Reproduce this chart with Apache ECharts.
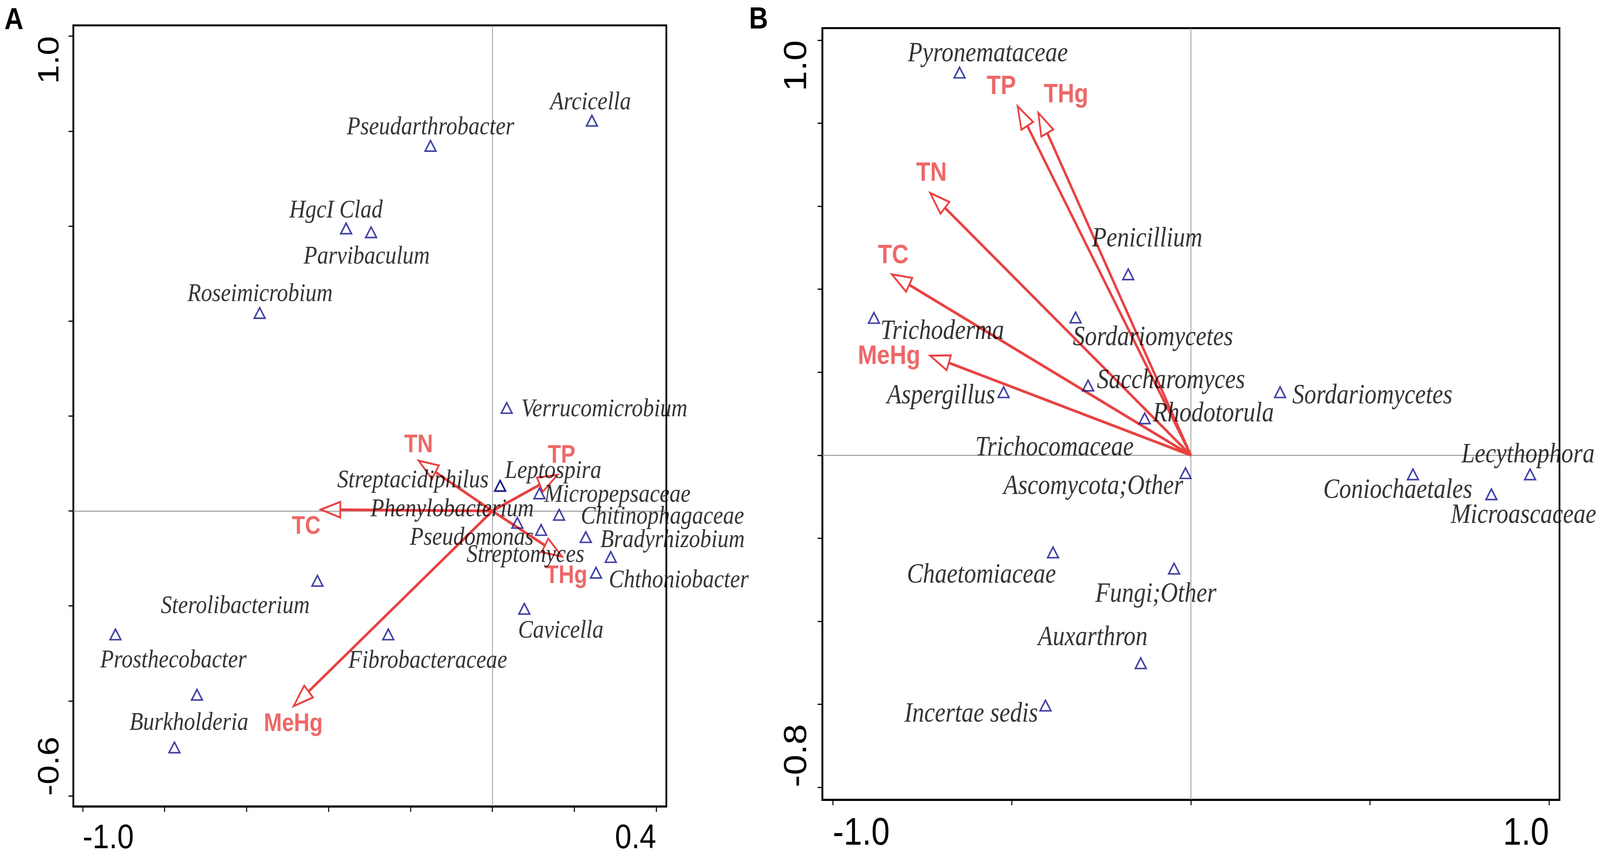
<!DOCTYPE html>
<html>
<head>
<meta charset="utf-8">
<title>RDA biplots</title>
<script src="https://cdn.jsdelivr.net/npm/echarts@6.0.0/dist/echarts.min.js"></script>
<style>
  html, body { margin: 0; padding: 0; background: #fff; overflow: hidden; }
  #main { width: 4740px; height: 2192px; transform-origin: 0 0; }
</style>
</head>
<body>
<div id="main"></div>
<script>
// panel A - bacterial genera
var namesA = ["Arcicella", "Pseudarthrobacter", "HgcI Clad", "Parvibaculum", "Roseimicrobium",
  "Verrucomicrobium", "Streptacidiphilus", "Leptospira", "Micropepsaceae", "Chitinophagaceae",
  "Phenylobacterium", "Pseudomonas", "Bradyrhizobium", "Streptomyces", "Chthoniobacter",
  "Cavicella", "Sterolibacterium", "Fibrobacteraceae", "", "Prosthecobacter", "Burkholderia"];
var xA = [0.243, -0.151, -0.357, -0.296, -0.568, 0.035, 0.019, 0.019, 0.115, 0.163,
  0.061, 0.119, 0.228, 0.289, 0.253, 0.078, -0.427, -0.254, -0.920, -0.721, -0.776];
var yA = [0.822, 0.769, 0.595, 0.587, 0.417, 0.217, 0.053, 0.053, 0.037, -0.008,
  -0.025, -0.040, -0.055, -0.097, -0.130, -0.206, -0.147, -0.260, -0.260, -0.387, -0.498];
var envA = ["TN", "TP", "TC", "THg", "MeHg"];
var envXA = [-0.180, 0.159, -0.419, 0.170, -0.485];
var envYA = [0.106, 0.076, 0.003, -0.096, -0.411];
var xTicksA = [-1.0, -0.8, -0.6, -0.4, -0.2, 0, 0.2, 0.4];
var yTicksA = [-0.6, -0.4, -0.2, 0, 0.2, 0.4, 0.6, 0.8, 1.0];
var xTickLabelsA = [-1.0, 0.4];
var yTickLabelsA = [-0.6, 1.0];

// panel B - fungal taxa
var namesB = ["Pyronemataceae", "Penicillium", "Sordariomycetes", "Trichoderma", "Saccharomyces",
  "Aspergillus", "Sordariomycetes", "Rhodotorula", "Trichocomaceae", "Ascomycota;Other",
  "Lecythophora", "Coniochaetales", "Microascaceae", "Chaetomiaceae", "Fungi;Other",
  "Auxarthron", "Incertae sedis"];
var xB = [-0.646, -0.175, -0.322, -0.885, -0.287, -0.523, 0.249, -0.129, -0.139, -0.015,
  0.947, 0.620, 0.839, -0.385, -0.047, -0.140, -0.406];
var yB = [0.922, 0.436, 0.332, 0.331, 0.168, 0.152, 0.152, 0.089, 0.015, -0.043,
  -0.046, -0.046, -0.094, -0.234, -0.273, -0.501, -0.603];
var envB = ["TP", "THg", "TN", "TC", "MeHg"];
var envXB = [-0.484, -0.426, -0.728, -0.835, -0.728];
var envYB = [0.841, 0.825, 0.632, 0.436, 0.240];
var xTicksB = [-1.0, -0.5, 0, 0.5, 1.0];
var yTicksB = [-0.8, -0.6, -0.4, -0.2, 0, 0.2, 0.4, 0.6, 0.8, 1.0];
var xTickLabelsB = [-1.0, 1.0];
var yTickLabelsB = [-0.8, 1.0];

// label placement next to each marker: [align, dx, dy] in px
var placeA = [["center", -4, -46], ["center", 0, -47], ["center", -30, -45], ["center", -13, 63],
  ["center", 1, -48], ["left", 43, 4], ["right", -34, -13], ["left", 14, -37], ["left", 14, 4],
  ["left", 64, 5], ["center", -193, -34], ["right", -22, 21], ["left", 43, 8], ["right", -78, -5],
  ["left", 38, 20], ["center", 108, 57], ["right", -23, 65], ["center", 117, 68], null,
  ["center", -70, -87], ["center", 43, -62]];
var placeB = [["center", 84, -48], ["center", 56, -90], ["left", -8, 52], ["left", 19, 35],
  ["left", 26, -12], ["right", -25, 10], ["left", 36, 10], ["left", 24, -11], ["right", -22, -3],
  ["right", -7, 35], ["center", -6, -49], ["center", -45, 42], ["center", 95, 55],
  ["center", -212, 59], ["center", -54, 66], ["center", -142, -65], ["right", -22, 23]];
var envPlaceA = [["center", 0, -39], ["center", 12, -49], ["center", -43, 45], ["center", 13, 50], ["center", -1, 46]];
var envPlaceB = [["center", -48, -50], ["center", 82, -46], ["center", 4, -50], ["center", 4, -47], ["right", -29, 2]];

var RED = "#e84242";
var NAVY = "#12128c";
var HEAD_LEN = 58, HEAD_HALF = 20;

// the window may be narrower than the 4740px design, so fit the whole page into it
var box = document.getElementById("main");
var sx = window.innerWidth / 4740, sy = window.innerHeight / 2192;
if (Math.abs(sx - 1) > 0.001 || Math.abs(sy - 1) > 0.001) {
  box.style.transform = "scale(" + sx + "," + sy + ")";
}

function arrowItem(params, api) {
  var o = api.coord([0, 0]);
  var p = api.coord([api.value(0), api.value(1)]);
  var dx = p[0] - o[0], dy = p[1] - o[1];
  var len = Math.sqrt(dx * dx + dy * dy);
  var ux = dx / len, uy = dy / len;
  var bx = p[0] - ux * HEAD_LEN, by = p[1] - uy * HEAD_LEN;
  var nx = -uy, ny = ux;
  return {
    type: "group",
    children: [
      { type: "line", shape: { x1: o[0], y1: o[1], x2: bx, y2: by },
        style: { stroke: RED, lineWidth: 7 } },
      { type: "polygon",
        shape: { points: [[bx + nx * HEAD_HALF, by + ny * HEAD_HALF], [p[0], p[1]], [bx - nx * HEAD_HALF, by - ny * HEAD_HALF]] },
        style: { fill: "none", stroke: RED, lineWidth: 5, lineJoin: "miter" } }
    ]
  };
}

function speciesData(names, xs, ys, place, fontSize) {
  var out = [];
  for (var i = 0; i < names.length; i++) {
    var pl = place[i];
    var item = { name: names[i], value: [xs[i], ys[i]] };
    if (pl && names[i]) {
      item.label = { show: true, position: "inside", align: pl[0], verticalAlign: "middle",
        offset: [pl[1], pl[2]], formatter: "{b}", fontSize: fontSize,
        fontFamily: "Liberation Serif", fontStyle: "italic", color: "#000" };
    } else {
      item.label = { show: false };
    }
    if (names[i] === "Trichocomaceae") {
      item.symbolSize = 0;
    }
    out.push(item);
  }
  return out;
}

function envData(names, xs, ys, place, fontSize) {
  var out = [];
  for (var i = 0; i < names.length; i++) {
    var pl = place[i];
    out.push({ name: names[i], value: [xs[i], ys[i]],
      label: { show: true, position: "inside", align: pl[0], verticalAlign: "middle",
        offset: [pl[1], pl[2]], formatter: "{b}", fontSize: fontSize,
        fontFamily: "Liberation Sans", fontWeight: "bold", color: RED } });
  }
  return out;
}

function pairs(xs, ys) {
  return xs.map(function (x, i) { return [x, ys[i]]; });
}

function xAxisCfg(idx, min, max, ticks, labels, fs) {
  return {
    type: "value", gridIndex: idx, min: min, max: max,
    axisLine: { show: true, onZero: false, lineStyle: { color: "#000", width: 5 } },
    axisTick: { show: true, inside: false, length: 14, customValues: ticks,
      lineStyle: { color: "#000", width: 3 } },
    axisLabel: { show: true, customValues: labels, margin: 39, fontSize: fs,
      fontFamily: "Liberation Sans", color: "#000",
      alignMinLabel: "left", alignMaxLabel: "right",
      formatter: function (v) { return v.toFixed(1); } },
    splitLine: { show: false }
  };
}

function yAxisCfg(idx, min, max, ticks, labels, fs, margin) {
  return {
    type: "value", gridIndex: idx, min: min, max: max,
    axisLine: { show: true, onZero: false, lineStyle: { color: "#000", width: 5 } },
    axisTick: { show: true, inside: false, length: 14, customValues: ticks,
      lineStyle: { color: "#000", width: 3 } },
    axisLabel: { show: true, customValues: labels, rotate: 90, margin: margin, fontSize: fs,
      fontFamily: "Liberation Sans", color: "#000",
      alignMinLabel: "left", alignMaxLabel: "right",
      formatter: function (v) { return v.toFixed(1); } },
    splitLine: { show: false }
  };
}

var zeroLines = {
  silent: true, symbol: ["none", "none"], z: 1,
  label: { show: false },
  lineStyle: { color: "#888", width: 2, type: "solid" },
  data: [{ xAxis: 0 }, { yAxis: 0 }]
};

var chart = echarts.init(box, null, { width: 4740, height: 2192 });
var option = {
  backgroundColor: "#fff",
  animation: false,
  title: [
    { text: "A", left: 13, top: 14, padding: 0,
      textStyle: { fontSize: 78, fontWeight: "bold", fontFamily: "Liberation Sans", color: "#000" } },
    { text: "B", left: 2219, top: 12, padding: 0,
      textStyle: { fontSize: 78, fontWeight: "bold", fontFamily: "Liberation Sans", color: "#000" } }
  ],
  grid: [
    { left: 217, top: 65, width: 1757, height: 2002, show: true, borderColor: "#000", borderWidth: 5 },
    { left: 2436, top: 72, width: 2184, height: 1976, show: true, borderColor: "#000", borderWidth: 5 }
  ],
  xAxis: [
    xAxisCfg(0, -1.023, 0.4247, xTicksA, xTickLabelsA, 88),
    xAxisCfg(1, -1.0292, 1.0292, xTicksB, xTickLabelsB, 98)
  ],
  yAxis: [
    yAxisCfg(0, -0.6222, 1.0227, yTicksA, yTickLabelsA, 88, 24),
    yAxisCfg(1, -0.830, 1.0292, yTicksB, yTickLabelsB, 94, 27)
  ],
  series: [
    { type: "custom", xAxisIndex: 0, yAxisIndex: 0, z: 3, silent: true,
      renderItem: arrowItem, data: pairs(envXA, envYA) },
    { type: "scatter", xAxisIndex: 0, yAxisIndex: 0, z: 4, symbolSize: 0, silent: true,
      data: envData(envA, envXA, envYA, envPlaceA, 64) },
    { type: "scatter", xAxisIndex: 0, yAxisIndex: 0, z: 5, silent: true,
      symbol: "triangle", symbolSize: [32, 27],
      itemStyle: { color: "rgba(0,0,0,0)", borderColor: NAVY, borderWidth: 4.2 },
      data: speciesData(namesA, xA, yA, placeA, 66),
      markLine: zeroLines },
    { type: "custom", xAxisIndex: 1, yAxisIndex: 1, z: 3, silent: true,
      renderItem: arrowItem, data: pairs(envXB, envYB) },
    { type: "scatter", xAxisIndex: 1, yAxisIndex: 1, z: 4, symbolSize: 0, silent: true,
      data: envData(envB, envXB, envYB, envPlaceB, 68) },
    { type: "scatter", xAxisIndex: 1, yAxisIndex: 1, z: 5, silent: true,
      symbol: "triangle", symbolSize: [32, 27],
      itemStyle: { color: "rgba(0,0,0,0)", borderColor: NAVY, borderWidth: 4.2 },
      data: speciesData(namesB, xB, yB, placeB, 71),
      markLine: zeroLines }
  ]
};
chart.setOption(option);
</script>
</body>
</html>
